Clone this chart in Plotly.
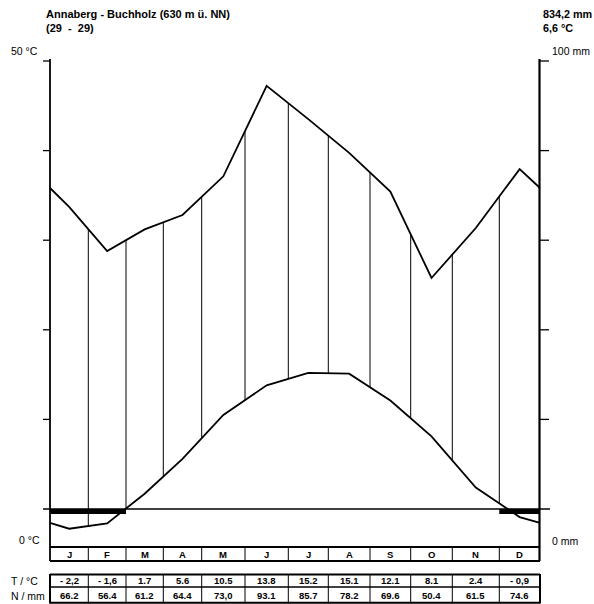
import numpy as np
import plotly.graph_objects as go

# ---------------- data ----------------
station = "Annaberg - Buchholz (630 m ü. NN)"
period = "(29\u00a0\u00a0-\u00a0\u00a029)"
annual_precip_label = "834,2 mm"
annual_temp_label = "6,6 °C"

months = ["J", "F", "M", "A", "M", "J", "J", "A", "S", "O", "N", "D"]
temperature = [-2.2, -1.6, 1.7, 5.6, 10.5, 13.8, 15.2, 15.1, 12.1, 8.1, 2.4, -0.9]
precipitation = [66.2, 56.4, 61.2, 64.4, 73.0, 93.1, 85.7, 78.2, 69.6, 50.4, 61.5, 74.6]
temp_labels = ["- 2,2", "- 1,6", "1.7", "5.6", "10.5", "13.8", "15.2", "15.1", "12.1", "8.1", "2.4", "- 0,9"]
precip_labels = ["66.2", "56.4", "61.2", "64.4", "73,0", "93.1", "85.7", "78.2", "69.6", "50.4", "61.5", "74.6"]
temp_ticks = [10, 20, 30, 40, 50]

# ---------------- layout geometry (page pixels) ----------------
PAGE_W, PAGE_H = 594, 604
OFF = 0                            # page body margin is removed below
W, H = PAGE_W - OFF, PAGE_H - OFF  # figure size
X_ORIGIN = 50 - OFF                # figure pixel of the left axis
month_widths = [38.3, 37.7, 37.3, 38.4, 43.3, 43.3, 40.0, 41.7, 40.7, 41.6, 47.0, 40.7]
edges = np.concatenate([[0.0], np.cumsum(month_widths)])
centers = (edges[:-1] + edges[1:]) / 2
X_END = edges[-1]

T_ZERO_PX, T_PX_PER_UNIT = 509.0 - OFF, 8.96
P_ZERO_PX, P_PX_PER_UNIT = 504.8 - OFF, 4.5
T_RANGE = [-(H - T_ZERO_PX) / T_PX_PER_UNIT, T_ZERO_PX / T_PX_PER_UNIT]
P_RANGE = [-(H - P_ZERO_PX) / P_PX_PER_UNIT, P_ZERO_PX / P_PX_PER_UNIT]


def p2t(p):
    frac = (p - P_RANGE[0]) / (P_RANGE[1] - P_RANGE[0])
    return T_RANGE[0] + frac * (T_RANGE[1] - T_RANGE[0])


def py(y_page):
    return 1 - (y_page - OFF) / H


def pxu(x_page):
    # page pixel -> x data unit
    return x_page - 50


FONT = "Liberation Sans, Arial, sans-serif"

# cyclic curves closed at the diagram edges
t_edge = (temperature[-1] + temperature[0]) / 2
p_edge = (precipitation[-1] + precipitation[0]) / 2
xs = np.concatenate([[0.0], centers, [X_END]])
ts = np.array([t_edge] + temperature + [t_edge])
ps = np.array([p_edge] + precipitation + [p_edge])

fig = go.Figure()

# hatching between temperature and precipitation at month borders
hx, hy = [], []
for e in edges[1:-1]:
    t = np.interp(e, xs, ts)
    p = np.interp(e, xs, ps)
    hx += [e, e, None]
    hy += [t, p2t(p), None]
fig.add_trace(go.Scatter(x=hx, y=hy, mode="lines", line=dict(color="black", width=1),
                         hoverinfo="skip", showlegend=False))

fig.add_trace(go.Scatter(x=xs, y=ts, mode="lines", line=dict(color="black", width=1.8),
                         hoverinfo="skip", showlegend=False))
fig.add_trace(go.Scatter(x=xs, y=ps, mode="lines", yaxis="y2",
                         line=dict(color="black", width=1.8),
                         hoverinfo="skip", showlegend=False))

shapes = []
# frost months
for i, t in enumerate(temperature):
    if t < 0:
        shapes.append(dict(type="rect", xref="x", yref="y", x0=edges[i], x1=edges[i + 1],
                           y0=0, y1=-5 / T_PX_PER_UNIT, fillcolor="black", line=dict(width=0)))
# zero line
shapes.append(dict(type="line", xref="x", yref="y", x0=-7, x1=X_END + 10, y0=0, y1=0,
                   line=dict(color="black", width=1.5)))
# axes
for xa, wd in [(0, 1.8), (X_END - 0.5, 2.2)]:
    shapes.append(dict(type="line", xref="x", yref="paper", x0=xa, x1=xa,
                       y0=py(561), y1=py(59), line=dict(color="black", width=wd)))
for tk in temp_ticks:
    shapes.append(dict(type="line", xref="x", yref="y", x0=-7, x1=0, y0=tk, y1=tk,
                       line=dict(color="black", width=1.3)))
    shapes.append(dict(type="line", xref="x", yref="y", x0=X_END - 0.5, x1=X_END + 9, y0=tk, y1=tk,
                       line=dict(color="black", width=1.3)))
# month row
for yy in [547, 561]:
    shapes.append(dict(type="line", xref="x", yref="paper", x0=0, x1=X_END, y0=py(yy), y1=py(yy),
                       line=dict(color="black", width=2)))
for e in edges[1:-1]:
    shapes.append(dict(type="line", xref="x", yref="paper", x0=e, x1=e, y0=py(547), y1=py(561),
                       line=dict(color="black", width=1)))
# value table
for yy, wd in [(574.5, 2), (587, 1.5), (602.8, 2)]:
    shapes.append(dict(type="line", xref="x", yref="paper", x0=0, x1=X_END, y0=py(yy), y1=py(yy),
                       line=dict(color="black", width=wd)))
for k, e in enumerate(edges):
    wd = 2 if k in (0, len(edges) - 1) else 1
    shapes.append(dict(type="line", xref="x", yref="paper", x0=e, x1=e, y0=py(574), y1=py(603.5),
                       line=dict(color="black", width=wd)))

ann = []


def text(x, y, s, anchor="left", size=10.5, bold=False):
    ann.append(dict(x=x, y=py(y), xref="x", yref="paper", text=s, showarrow=False,
                    xanchor=anchor, yanchor="middle", borderpad=0,
                    font=dict(family=FONT, size=size, color="black",
                              weight="bold" if bold else "normal")))


text(pxu(45), 14, station, bold=True, size=11)
text(pxu(45), 28, period, bold=True, size=11)
text(pxu(542), 14, annual_precip_label, bold=True, size=10.8)
text(pxu(542), 28, annual_temp_label, bold=True, size=10.8)
text(pxu(39), 51, "50 °C", anchor="right")
text(pxu(551), 51, "100 mm")
text(pxu(41), 540, "0 °C", anchor="right")
text(pxu(551), 540.5, "0 mm")
text(pxu(10), 580.5, "T / °C")
text(pxu(10), 595.5, "N / mm")
for c, m, tl, pl in zip(centers, months, temp_labels, precip_labels):
    text(c, 554, m, anchor="center", size=9.5, bold=True)
    text(c, 580.5, tl, anchor="center", size=9.5, bold=True)
    text(c, 595.5, pl, anchor="center", size=9.5, bold=True)

fig.update_layout(
    width=W, height=H, margin=dict(l=0, r=0, t=0, b=0),
    paper_bgcolor="white", plot_bgcolor="white",
    xaxis=dict(range=[-X_ORIGIN, W - X_ORIGIN], visible=False, fixedrange=True),
    yaxis=dict(range=T_RANGE, visible=False, fixedrange=True),
    yaxis2=dict(range=P_RANGE, visible=False, overlaying="y", fixedrange=True),
    shapes=shapes, annotations=ann, showlegend=False,
)

fig.write_html(
    "out.html",
    config={"displayModeBar": False},
    post_script=(
        "document.body.style.margin='0';"
        "document.body.style.padding='0';"
        "document.documentElement.style.overflow='hidden';"
        "document.body.style.overflow='hidden';"
    ),
)
